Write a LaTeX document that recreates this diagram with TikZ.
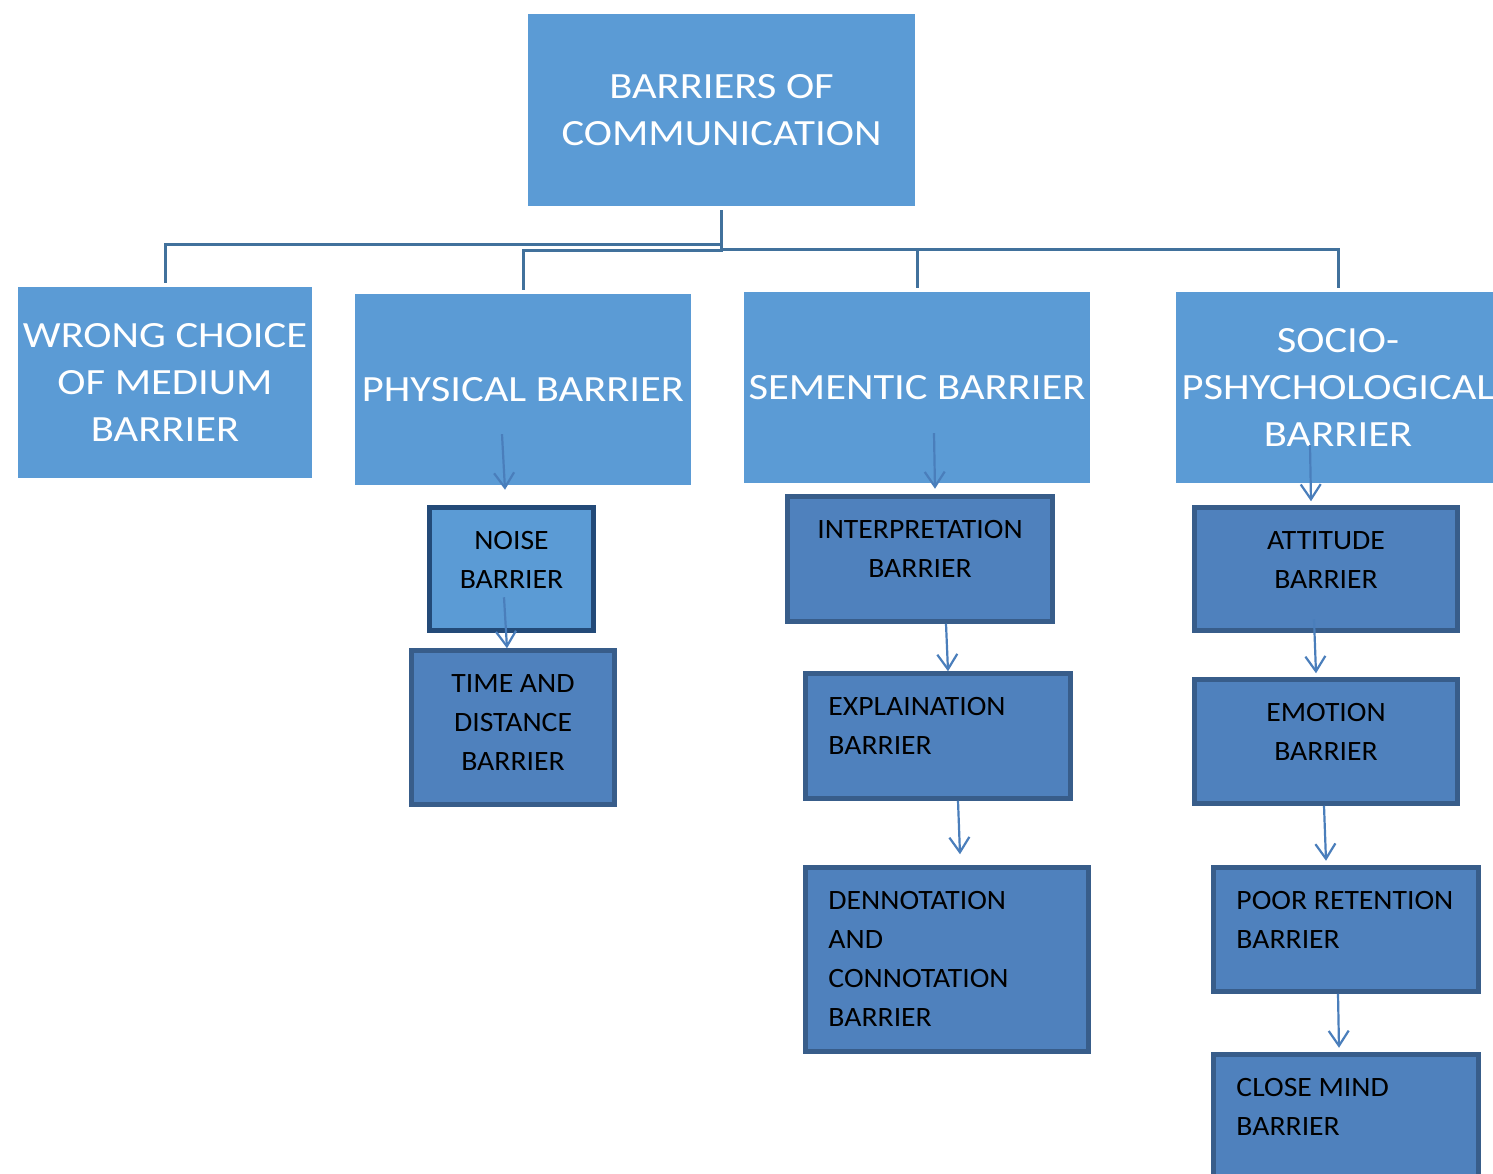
\documentclass[tikz,border=0pt]{standalone}
\usepackage{fontspec}
\setmainfont{Carlito}
\newfontfamily\widetop[FakeStretch=1.15]{Carlito}
\newfontfamily\widelow[FakeStretch=1.06]{Carlito}
\usetikzlibrary{positioning,calc,arrows.meta}
\definecolor{topblue}{RGB}{91,155,213}
\definecolor{lowblue}{RGB}{79,129,189}
\definecolor{lowedge}{RGB}{56,93,138}
\definecolor{noiseedge}{RGB}{35,74,120}
\definecolor{linkblue}{RGB}{65,113,156}
\definecolor{arrowblue}{RGB}{74,126,187}
\tikzset{
  topbox/.style={fill=topblue, text=white, align=center, inner sep=0pt,
    font=\widetop\fontsize{37}{47}\selectfont},
  lowbox/.style={fill=lowblue, draw=lowedge, line width=4.5pt, inner sep=0pt},
  lowtext/.style={inner sep=0pt, text=black, font=\widelow\fontsize{28}{39}\selectfont},
  link/.style={draw=linkblue, line width=3pt, shorten <=4pt, shorten >=4pt},
  flow/.style={draw=arrowblue, line width=2.2pt,
    -{Straight Barb[length=15pt,width=20pt]}}
}
\begin{document}
\begin{tikzpicture}[x=1pt,y=-1pt]
      \useasboundingbox (0,0) rectangle (1493,1174);
      % top level
      \node[topbox, minimum width=387pt, minimum height=192pt] (root) at (721.5,110) {BARRIERS OF\\COMMUNICATION};
      \node[topbox, minimum width=294pt, minimum height=191pt] (wrong) at (165,382.5) {WRONG CHOICE\\OF MEDIUM\\BARRIER};
      \node[topbox, minimum width=336pt, minimum height=191pt] (physical) at (523,389.5) {PHYSICAL BARRIER};
      \node[topbox, minimum width=346pt, minimum height=191pt] (sementic) at (917,387.5) {SEMENTIC BARRIER};
      \node[topbox, minimum width=324pt, minimum height=191pt] (socio) at (1338,387.5) {SOCIO-\\PSHYCHOLOGICAL\\BARRIER};
      \begin{scope}
        \draw[link] (root.south) -- ++(0,38) -| (wrong.north);
        \draw[link] (root.south) -- ++(0,44) -| (physical.north);
        \draw[link] (root.south) -- ++(0,43) -| (sementic.north);
        \draw[link] (root.south) -- ++(0,43) -| (socio.north);
      \end{scope}
      % lower boxes
      \node[lowbox, fill=topblue, draw=noiseedge, minimum width=164pt, minimum height=123pt] (noise) at (511.5,569) {};
      \node[lowbox, minimum width=203pt, minimum height=154pt] (time) at (513,727.5) {};
      \node[lowbox, minimum width=265pt, minimum height=125pt] (interp) at (920,559) {};
      \node[lowbox, minimum width=265pt, minimum height=125pt] (explain) at (938,736) {};
      \node[lowbox, minimum width=283pt, minimum height=184pt] (denn) at (947,959.5) {};
      \node[lowbox, minimum width=263pt, minimum height=123pt] (attitude) at (1326,569) {};
      \node[lowbox, minimum width=263pt, minimum height=124pt] (emotion) at (1326,741.5) {};
      \node[lowbox, minimum width=265pt, minimum height=124pt] (poor) at (1346,929.5) {};
      \node[lowbox, minimum width=265pt, minimum height=136pt] (close) at (1346,1122.5) {};
      \node[lowtext, align=center, below=26pt of noise.north] (noisetext) {NOISE\\BARRIER};
      \node[lowtext, align=center, below=26pt of time.north] (timetext) {TIME AND\\DISTANCE\\BARRIER};
      \node[lowtext, align=center, below=26pt of interp.north] (interptext) {INTERPRETATION\\BARRIER};
      \node[lowtext, align=left, below right=26pt and 25pt of explain.north west] (explaintext) {EXPLAINATION\\BARRIER};
      \node[lowtext, align=left, below right=26pt and 25pt of denn.north west] (denntext) {DENNOTATION\\AND\\CONNOTATION\\BARRIER};
      \node[lowtext, align=center, below=26pt of attitude.north] (attitudetext) {ATTITUDE\\BARRIER};
      \node[lowtext, align=center, below=26pt of emotion.north] (emotiontext) {EMOTION\\BARRIER};
      \node[lowtext, align=left, below right=26pt and 25pt of poor.north west] (poortext) {POOR RETENTION\\BARRIER};
      \node[lowtext, align=left, below right=26pt and 25pt of close.north west] (closetext) {CLOSE MIND\\BARRIER};
      \begin{scope}
        \draw[flow] ($(physical.south)+(-21,-51)$) -- ($(noise.north)+(-6.5,-15.5)$);
        \draw[flow] ($(noise.south)+(-7.5,-35.5)$) -- ($(time.north)+(-6,0)$);
        \draw[flow] ($(sementic.south)+(17,-50)$) -- ($(interp.north)+(15,-5.5)$);
        \draw[flow] ($(interp.south)+(26,0)$) -- ($(explain.north)+(10,0)$);
        \draw[flow] ($(explain.south)+(20,0)$) -- ($(denn.north)+(13,-11)$);
        \draw[flow] ($(socio.south)+(-28,-38)$) -- ($(attitude.north)+(-15,-4)$);
        \draw[flow] ($(attitude.south)+(-12,-13.5)$) -- ($(emotion.north)+(-10,-4)$);
        \draw[flow] ($(emotion.south)+(-2,0)$) -- ($(poor.north)+(-20,-4.5)$);
        \draw[flow] ($(poor.south)+(-8,0)$) -- ($(close.north)+(-7,-4.5)$);
      \end{scope}
    \end{tikzpicture}
\end{document}
